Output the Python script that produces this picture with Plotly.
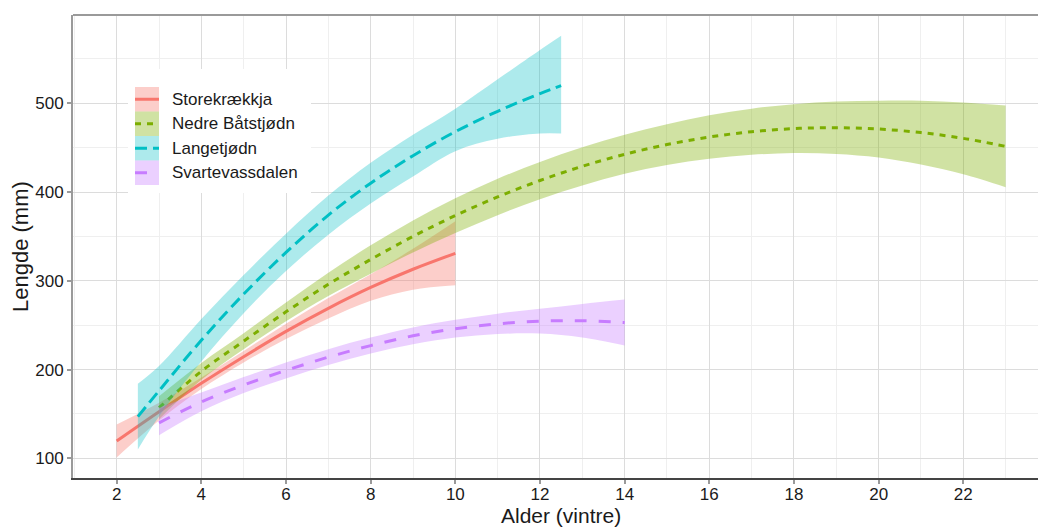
import plotly.graph_objects as go

# ---------------- data ----------------
names = ["Storekrækkja", "Nedre Båtstjødn", "Langetjødn", "Svartevassdalen"]

age_store = [2, 3, 4, 5, 6, 7, 8, 9, 10]
fit_store = [119.5, 152.5, 184.5, 214.5, 243, 269, 292.5, 313, 331]
lo_store = [101, 142.5, 178, 208, 234.5, 257.5, 277.5, 290, 295]
hi_store = [138, 162.5, 191, 221, 251.5, 280.5, 307.5, 336, 367]

age_nedre = [3, 4, 5, 6, 7, 8, 9, 10, 11, 12, 13, 14, 15, 16, 17, 18, 19, 20, 21, 22, 23]
fit_nedre = [157, 198, 232, 265, 296, 324, 350, 373.5, 394.5, 413, 429, 442.5, 453.5, 462,
             468, 471.5, 472.5, 471, 467, 460.5, 451.5]
lo_nedre = [144, 188.5, 223, 254.5, 283, 308, 332, 354, 374, 392, 407.5, 420.5, 430.5, 437.5,
            442, 444, 443, 439, 431, 420, 405.5]
hi_nedre = [170, 207.5, 241, 275.5, 309, 340, 368, 393, 415, 434, 450.5, 464.5, 476.5, 486.5,
            494, 499, 502, 503, 503, 501, 497.5]

age_lange = [2.5, 3, 4, 5, 6, 7, 8, 9, 10, 11, 12, 12.5]
fit_lange = [147, 176, 233, 285, 332, 374, 410, 441, 468, 491, 511, 520]
lo_lange = [110, 147, 209, 263.5, 311, 352, 387, 417.5, 446, 460, 466, 466]
hi_lange = [184, 204, 257, 306.5, 353, 396, 433, 464.5, 494, 527, 560, 576]

age_svart = [3, 4, 5, 6, 7, 8, 9, 10, 11, 12, 13, 14]
fit_svart = [140, 163.5, 182.5, 199, 214, 227, 238, 246, 251.5, 254.5, 255, 253]
lo_svart = [126, 153, 173.5, 190, 205, 218, 228.5, 236, 240, 240.5, 236, 227]
hi_svart = [157, 174, 191.5, 208, 223, 236, 247.5, 256, 263, 268.5, 274, 279]

x_ticks = [2, 4, 6, 8, 10, 12, 14, 16, 18, 20, 22]
y_ticks = [100, 200, 300, 400, 500]

# ---------------- styling ----------------
colors = ["#F8766D", "#7CAE00", "#00BFC4", "#C77CFF"]
fills = ["rgba(248,118,109,0.36)", "rgba(124,174,0,0.36)",
         "rgba(0,191,196,0.32)", "rgba(199,124,255,0.36)"]
dashes = ["solid", "6px,6px", "12px,6px", "12px,12px"]

W, H = 1038, 527
ML, MR, MT, MB = 73, 0, 15, 49
PW, PH = W - ML - MR, H - MT - MB
FONT = "Liberation Sans, Arial, Helvetica, sans-serif"


def px_x(p):
    return (p - ML) / PW


def px_y(p):
    return (H - MB - p) / PH


data = [
    (age_store, fit_store, lo_store, hi_store),
    (age_nedre, fit_nedre, lo_nedre, hi_nedre),
    (age_lange, fit_lange, lo_lange, hi_lange),
    (age_svart, fit_svart, lo_svart, hi_svart),
]

fig = go.Figure()
for i, (ages, fit, lo, hi) in enumerate(data):
    fig.add_trace(go.Scatter(x=ages, y=lo, mode="lines",
                             line=dict(width=0, shape="spline", smoothing=1),
                             showlegend=False, hoverinfo="skip"))
    fig.add_trace(go.Scatter(x=ages, y=hi, mode="lines", fill="tonexty",
                             fillcolor=fills[i],
                             line=dict(width=0, shape="spline", smoothing=1),
                             showlegend=False, hoverinfo="skip"))
    fig.add_trace(go.Scatter(x=ages, y=fit, mode="lines", name=names[i],
                             line=dict(color=colors[i], width=3, dash=dashes[i],
                                       shape="spline", smoothing=1),
                             showlegend=False))

# ---------------- manual legend (ggplot style) ----------------
shapes = []
annotations = []
shapes.append(dict(type="rect", xref="paper", yref="paper",
                   x0=px_x(128), x1=px_x(311), y0=px_y(193), y1=px_y(69),
                   fillcolor="white", line=dict(width=0), layer="above"))
row_top = 87.0
row_h = 24.5
for i, nm in enumerate(names):
    t = row_top + i * row_h
    b = t + row_h
    c = (t + b) / 2
    shapes.append(dict(type="rect", xref="paper", yref="paper",
                       x0=px_x(135), x1=px_x(159), y0=px_y(b), y1=px_y(t),
                       fillcolor=fills[i], line=dict(width=0), layer="above"))
    shapes.append(dict(type="line", xref="paper", yref="paper",
                       x0=px_x(135), x1=px_x(159), y0=px_y(c), y1=px_y(c),
                       line=dict(color=colors[i], width=3, dash=dashes[i]),
                       layer="above"))
    annotations.append(dict(text=nm, xref="paper", yref="paper",
                            x=px_x(170), y=px_y(c), xanchor="left", yanchor="middle",
                            showarrow=False,
                            font=dict(family=FONT, size=17, color="#1a1a1a")))

# top panel border
shapes.append(dict(type="line", xref="paper", yref="paper", x0=0, x1=1, y0=1, y1=1,
                   line=dict(color="#9a9a9a", width=2), layer="above"))

# axis titles
annotations.append(dict(text="Alder (vintre)", xref="paper", yref="paper",
                        x=px_x(561), y=px_y(515), xanchor="center", yanchor="middle",
                        showarrow=False, borderpad=0,
                        font=dict(family=FONT, size=21, color="#1a1a1a")))
annotations.append(dict(text="Lengde (mm)", xref="paper", yref="paper",
                        x=px_x(20), y=px_y(247), xanchor="center", yanchor="middle",
                        textangle=-90, showarrow=False, borderpad=0,
                        font=dict(family=FONT, size=22, color="#1a1a1a")))

fig.update_layout(
    width=W, height=H,
    margin=dict(l=ML, r=MR, t=MT, b=MB, pad=0),
    paper_bgcolor="white", plot_bgcolor="white",
    font=dict(family=FONT, size=17, color="#1a1a1a"),
    showlegend=False,
    shapes=shapes, annotations=annotations,
    xaxis=dict(range=[0.968, 23.765], tickmode="array", tickvals=x_ticks,
               ticktext=[str(v) for v in x_ticks],
               showgrid=True, gridcolor="#DCDCDC", gridwidth=1,
               minor=dict(dtick=1, tick0=1, showgrid=True, gridcolor="#EFEFEF", gridwidth=1),
               showline=True, linecolor="#444444", linewidth=2,
               ticks="outside", ticklen=4, tickcolor="#9a9a9a", tickwidth=1.5,
               ticklabelstandoff=-4,
               zeroline=False, tickfont=dict(family=FONT, size=17, color="#1a1a1a")),
    yaxis=dict(range=[77.8, 599.5], tickmode="array", tickvals=y_ticks,
               ticktext=[str(v) for v in y_ticks],
               showgrid=True, gridcolor="#DCDCDC", gridwidth=1,
               minor=dict(dtick=50, tick0=50, showgrid=True, gridcolor="#EFEFEF", gridwidth=1),
               showline=True, linecolor="#9a9a9a", linewidth=2,
               ticks="outside", ticklen=4, tickcolor="#9a9a9a", tickwidth=1.5,
               zeroline=False, tickfont=dict(family=FONT, size=17, color="#1a1a1a")),
)

fig.write_html("out.html")
